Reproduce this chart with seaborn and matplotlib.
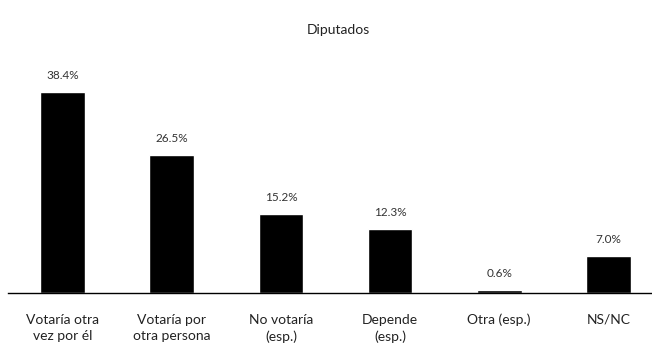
import matplotlib
matplotlib.use("Agg")
import matplotlib.pyplot as plt
import seaborn as sns
import pandas as pd

categories = ["Votaría otra\nvez por él", "Votaría por\notra persona", "No votaría\n(esp.)",
              "Depende\n(esp.)", "Otra (esp.)", "NS/NC"]
values = [38.4, 26.5, 15.2, 12.3, 0.6, 7.0]
title = "Diputados"

sns.set_theme(style="white")
plt.rcParams['font.family'] = ['Lato', 'DejaVu Sans']

df = pd.DataFrame({"cat": categories, "val": values})
fig = plt.figure(figsize=(6.52, 3.45), dpi=100)
ax = fig.add_axes([8/652, 52/345, 655/652, 235/345])
sns.barplot(data=df, x="cat", y="val", color="black", width=0.41, ax=ax, saturation=1)
ax.set_xlim(-0.5, 5.5)
ax.set_ylim(0, 45)
for i, v in enumerate(values):
    ax.annotate(f"{v:.1f}%", (i, v), xytext=(0, 8), textcoords="offset points",
                ha="center", va="bottom", fontsize=8.5, color="#333333")
for s in ["top", "right", "left"]:
    ax.spines[s].set_visible(False)
ax.spines["bottom"].set_color("black")
ax.spines["bottom"].set_linewidth(1)
ax.set_yticks([])
ax.set_xlabel("")
ax.set_ylabel("")
ax.tick_params(axis="x", length=0, pad=15, labelsize=10, labelcolor="#222222")
for lab in ax.get_xticklabels():
    lab.set_linespacing(1.45)
    lab.set_va("top")
fig.text(338/652, 1 - 30/345, title, ha="center", va="center", fontsize=10, color="#222222")
fig.savefig("out.png", dpi=100)
